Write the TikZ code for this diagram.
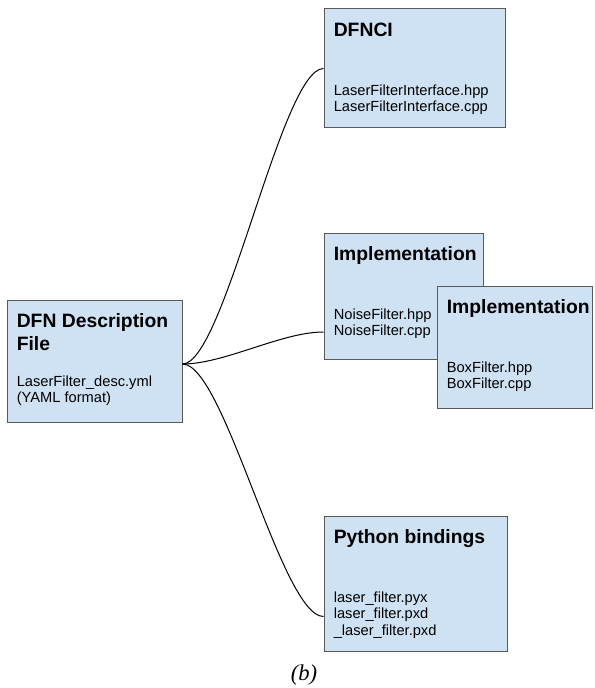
\documentclass[tikz,border=0pt]{standalone}
\usepackage{fontspec}
\setmainfont{Liberation Sans}
\newfontfamily\captionserif{Liberation Serif}
\usetikzlibrary{fit,positioning}

\definecolor{boxfill}{HTML}{CFE2F3}
\definecolor{boxedge}{HTML}{595959}

\tikzset{
  filebox/.style={draw=boxedge, fill=boxfill, line width=0.75pt, inner sep=0pt},
  boxtitle/.style={inner sep=0pt, align=left,
    font=\fontsize{14.5}{17.25}\selectfont\bfseries},
  boxfiles/.style={inner sep=0pt, align=left,
    font=\fontsize{11}{12.4}\selectfont},
  link/.style={line width=0.75pt, black}
}

\begin{document}
\begin{tikzpicture}[x=0.75pt, y=-0.75pt]

      % page frame (reference pixels, y pointing down)
      \useasboundingbox (0,0) rectangle (594,688);

      % Source box on the left
      \node[filebox, fit={(7,300) (182,422)}] (dfn) {};
      \node[boxtitle, below right=10.5pt and 7.5pt of dfn.north west] (dfntitle) {DFN Description\\File};
      \node[boxfiles, below right=57pt and 7.5pt of dfn.north west] (dfnfiles) {LaserFilter\_desc.yml\\(YAML format)};

      % Generated interface
      \node[filebox, fit={(324,9) (505,128)}] (dfnci) {};
      \node[boxtitle, below right=10.5pt and 7.5pt of dfnci.north west] (dfncititle) {DFNCI};
      \node[boxfiles, below right=57pt and 7.5pt of dfnci.north west] (dfncifiles) {LaserFilterInterface.hpp\\LaserFilterInterface.cpp};

      % Implementations (second one lies on top of the first)
      \node[filebox, fit={(324,233) (483,359)}] (noiseimpl) {};
      \node[boxtitle, below right=10.5pt and 7.5pt of noiseimpl.north west] (noisetitle) {Implementation};
      \node[boxfiles, below right=57pt and 7.5pt of noiseimpl.north west] (noisefiles) {NoiseFilter.hpp\\NoiseFilter.cpp};

      \node[filebox, fit={(437,286) (592,408)}] (boximpl) {};
      \node[boxtitle, below right=10.5pt and 7.5pt of boximpl.north west] (boxtitle) {Implementation};
      \node[boxfiles, below right=57pt and 7.5pt of boximpl.north west] (boxfiles) {BoxFilter.hpp\\BoxFilter.cpp};

      % Python bindings
      \node[filebox, fit={(324,516) (507,651)}] (pybind) {};
      \node[boxtitle, below right=10.5pt and 7.5pt of pybind.north west] (pytitle) {Python bindings};
      \node[boxfiles, below right=57pt and 7.5pt of pybind.north west] (pyfiles) {laser\_filter.pyx\\laser\_filter.pxd\\\_laser\_filter.pxd};

      % connector end points
      \coordinate (hub) at ([yshift=-2.25pt]dfn.east);
      \coordinate (noisein) at ([yshift=-27pt]noiseimpl.west);
      \coordinate (pyin) at ([yshift=-24.75pt]pybind.west);

      % curved links
      \draw[link] (hub) .. controls +(42,0) and +(-42,0) .. (dfnci.west);
      \draw[link] (hub) .. controls +(42,0) and +(-42,0) .. (noisein);
      \draw[link] (hub) .. controls +(42,0) and +(-42,0) .. (pyin);

      % caption
      \node[anchor=base, font=\captionserif\itshape\fontsize{17}{20}\selectfont] (caption) at (304,680) {(b)};

    \end{tikzpicture}
\end{document}
